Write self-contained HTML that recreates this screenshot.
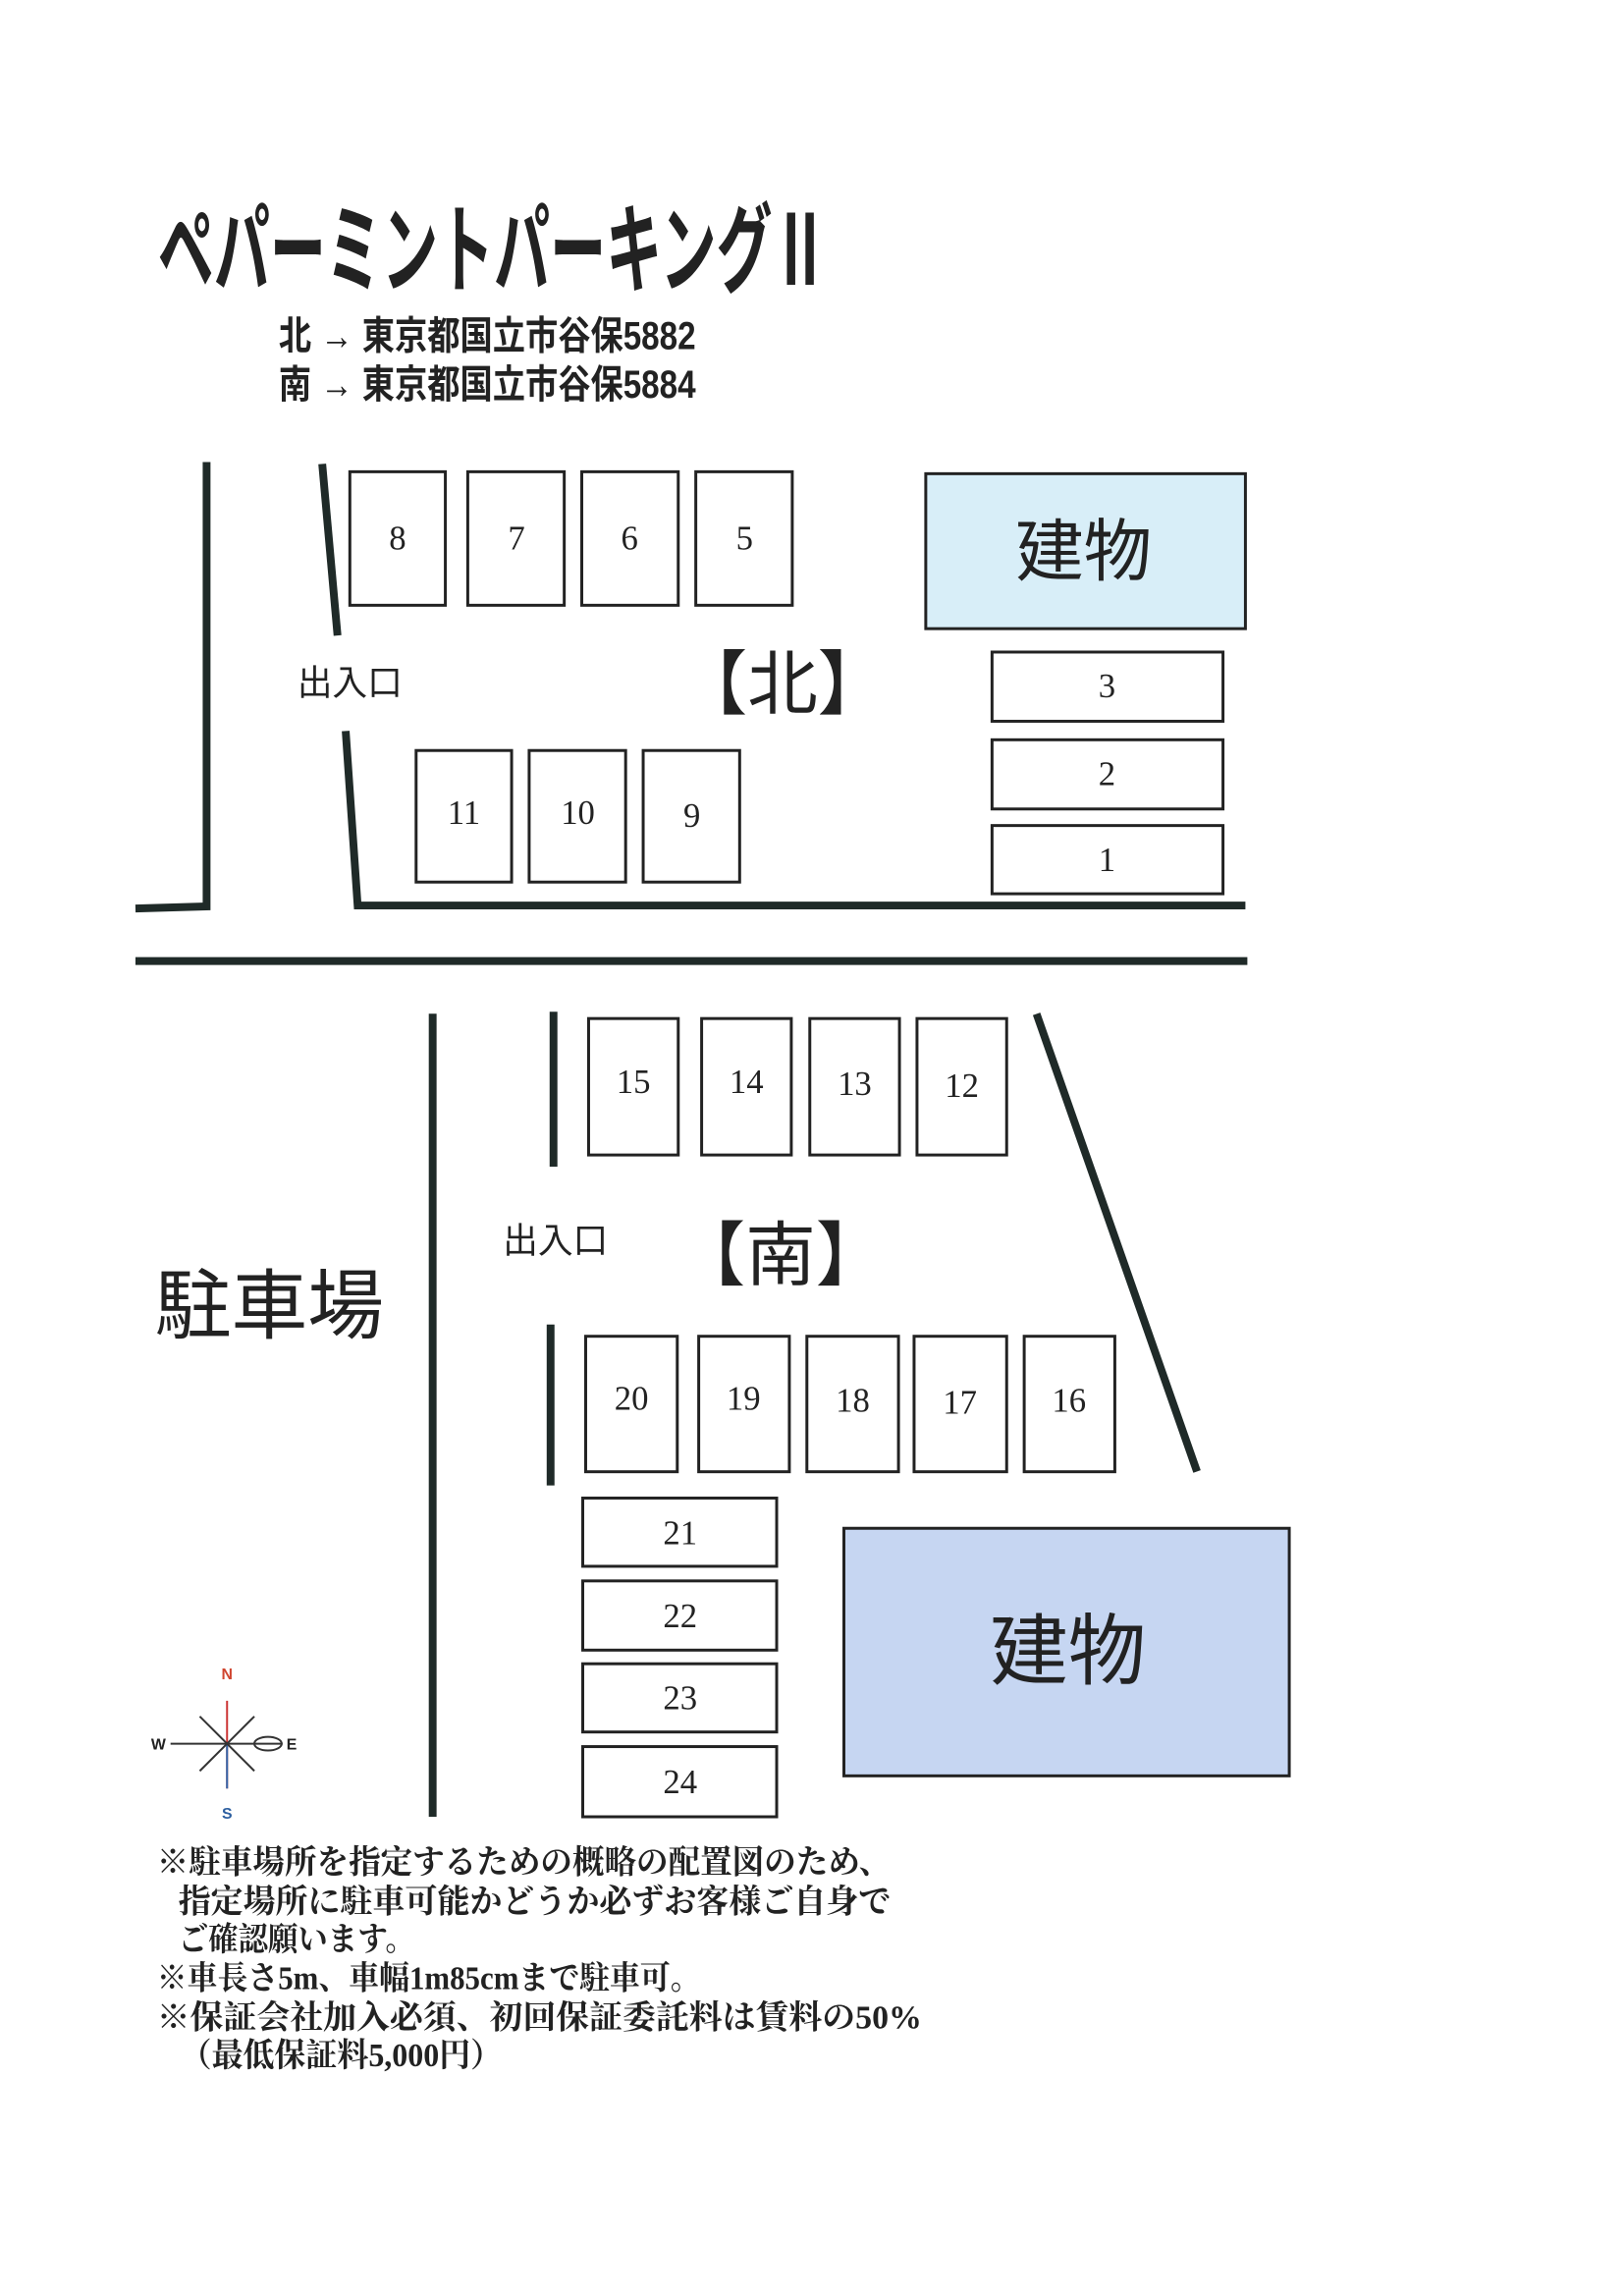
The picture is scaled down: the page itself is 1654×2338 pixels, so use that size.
<!DOCTYPE html>
<html><head><meta charset="utf-8"><style>
html,body{margin:0;padding:0;background:#fff;}
svg{display:block;}
.num{font-family:"Liberation Serif","Noto Serif CJK SC",serif;font-size:35px;text-anchor:middle;dominant-baseline:central;fill:#222;}
.note{font-family:"Liberation Serif","Noto Serif CJK SC",serif;font-size:34px;font-weight:bold;fill:#222;}
.g{font-family:"Liberation Sans","Noto Sans CJK JP",sans-serif;fill:#222;}
</style></head><body>
<svg width="1654" height="2338" viewBox="0 0 1654 2338" xmlns="http://www.w3.org/2000/svg">
<rect width="1654" height="2338" fill="#fff"/>
<g transform="scale(0.9925)">
<!-- title -->
<text x="162" y="292" class="g" font-size="100" font-weight="bold" textLength="688" lengthAdjust="spacingAndGlyphs" fill="#111">ペパーミントパーキングⅡ</text>
<text x="286" y="358" class="g" font-size="40" font-weight="bold" textLength="428" lengthAdjust="spacingAndGlyphs">北 → 東京都国立市谷保5882</text>
<text x="286" y="408" class="g" font-size="40" font-weight="bold" textLength="428" lengthAdjust="spacingAndGlyphs">南 → 東京都国立市谷保5884</text>

<g stroke="#1f2a28" stroke-width="8" fill="none" stroke-linecap="square">
<polyline points="212,478 212,930 143,932"/>
<line x1="331" y1="480" x2="346" y2="648"/>
<polyline points="355,754 367,929 1274,929"/>
<line x1="143" y1="986" x2="1276" y2="986"/>
<line x1="444" y1="1044" x2="444" y2="1860"/>
<line x1="568" y1="1042" x2="568" y2="1193"/>
<line x1="565" y1="1363" x2="565" y2="1520"/>
<line x1="1065" y1="1044" x2="1227" y2="1506"/>
</g>

<g stroke="#222" stroke-width="3" fill="#fff">
<rect x="359" y="484" width="98" height="137"/>
<rect x="480" y="484" width="99" height="137"/>
<rect x="597" y="484" width="99" height="137"/>
<rect x="714" y="484" width="99" height="137"/>
<rect x="950" y="486" width="328" height="159" fill="#d8eef8"/>
<rect x="1018" y="669" width="237" height="71"/>
<rect x="1018" y="759" width="237" height="71"/>
<rect x="1018" y="847" width="237" height="70"/>
<rect x="427" y="770" width="98" height="135"/>
<rect x="543" y="770" width="99" height="135"/>
<rect x="660" y="770" width="99" height="135"/>

<rect x="604" y="1045" width="92" height="140"/>
<rect x="720" y="1045" width="92" height="140"/>
<rect x="831" y="1045" width="92" height="140"/>
<rect x="941" y="1045" width="92" height="140"/>
<rect x="601" y="1371" width="94" height="139"/>
<rect x="717" y="1371" width="93" height="139"/>
<rect x="828" y="1371" width="94" height="139"/>
<rect x="938" y="1371" width="95" height="139"/>
<rect x="1051" y="1371" width="93" height="139"/>
<rect x="598" y="1537" width="199" height="70"/>
<rect x="598" y="1622" width="199" height="71"/>
<rect x="598" y="1707" width="199" height="70"/>
<rect x="598" y="1792" width="199" height="72"/>
<rect x="866" y="1568" width="457" height="254" fill="#c6d6f2"/>
</g>

<g class="num">
<text x="408" y="552">8</text><text x="530" y="552">7</text><text x="646" y="552">6</text><text x="764" y="552">5</text>
<text x="1136" y="704">3</text><text x="1136" y="794">2</text><text x="1136" y="882">1</text>
<text x="476" y="834">11</text><text x="593" y="834">10</text><text x="710" y="837">9</text>
<text x="650" y="1110">15</text><text x="766" y="1110">14</text><text x="877" y="1112">13</text><text x="987" y="1114">12</text>
<text x="648" y="1435">20</text><text x="763" y="1435">19</text><text x="875" y="1437">18</text><text x="985" y="1439">17</text><text x="1097" y="1437">16</text>
<text x="698" y="1573">21</text><text x="698" y="1658">22</text><text x="698" y="1742">23</text><text x="698" y="1828">24</text>
</g>

<text x="1112" y="590" class="g" font-size="70" text-anchor="middle">建物</text>
<text x="1096" y="1722" class="g" font-size="80" text-anchor="middle">建物</text>
<text x="305" y="713" class="g" font-size="36">出入口</text>
<text x="516" y="1285" class="g" font-size="36">出入口</text>
<text x="695" y="727" class="g" font-size="72">【北】</text>
<text x="693" y="1313" class="g" font-size="72">【南】</text>
<text x="159" y="1367" class="g" font-size="78" textLength="235" lengthAdjust="spacingAndGlyphs">駐車場</text>

<g stroke="#333" stroke-width="2" fill="none">
<line x1="233" y1="1745" x2="233" y2="1835" stroke="#c33"/>
<line x1="233" y1="1789" x2="233" y2="1835" stroke="#3366aa"/>
<line x1="175" y1="1789" x2="290" y2="1789"/>
<line x1="205" y1="1761" x2="261" y2="1817"/>
<line x1="261" y1="1761" x2="205" y2="1817"/>
<ellipse cx="275" cy="1789" rx="14" ry="7"/>
</g>
<text x="233" y="1723" font-family="Liberation Sans" font-weight="bold" font-size="16" fill="#d0452f" text-anchor="middle">N</text>
<text x="233" y="1866" font-family="Liberation Sans" font-weight="bold" font-size="16" fill="#2d5fa0" text-anchor="middle">S</text>
<text x="155" y="1795" font-family="Liberation Sans" font-weight="bold" font-size="16" fill="#222">W</text>
<text x="294" y="1795" font-family="Liberation Sans" font-weight="bold" font-size="16" fill="#222">E</text>

<text x="161" y="1922" class="note" textLength="753" lengthAdjust="spacingAndGlyphs">※駐車場所を指定するための概略の配置図のため、</text>
<text x="183" y="1962" class="note" textLength="731" lengthAdjust="spacingAndGlyphs">指定場所に駐車可能かどうか必ずお客様ご自身で</text>
<text x="183" y="2001" class="note" textLength="243" lengthAdjust="spacingAndGlyphs">ご確認願います。</text>
<text x="161" y="2041" class="note" textLength="558" lengthAdjust="spacingAndGlyphs">※車長さ5m、車幅1m85cmまで駐車可。</text>
<text x="161" y="2081" class="note" textLength="785" lengthAdjust="spacingAndGlyphs">※保証会社加入必須、初回保証委託料は賃料の50%</text>
<text x="185" y="2120" class="note" textLength="330" lengthAdjust="spacingAndGlyphs">（最低保証料5,000円）</text>
</g>
</svg>
</body></html>
